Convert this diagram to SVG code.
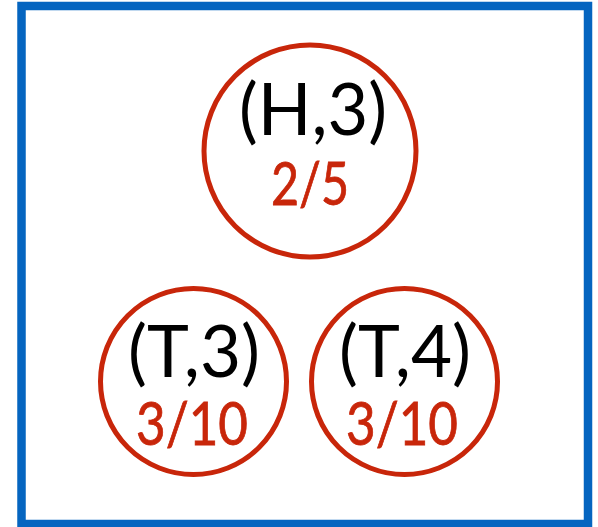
<svg xmlns="http://www.w3.org/2000/svg" width="598" height="527" viewBox="0 0 598 527">
<style>
.node{fill:#fff;stroke:#C8260A;stroke-width:5}
.lbl{font-family:Lato,"Liberation Sans",sans-serif;font-size:72px;fill:#000;text-anchor:middle}
.prob{font-family:Lato,"Liberation Sans",sans-serif;font-size:60px;fill:#C8260A;text-anchor:middle;stroke:#C8260A;stroke-width:0.8}
</style>
<rect x="21.5" y="6" width="566.5" height="518" fill="#fff" stroke="#0565C0" stroke-width="8.5"/>
<g id="connectors"></g>
<g id="H3">
<circle class="node" cx="310" cy="151" r="106"/>
<text class="lbl" x="313" y="135" textLength="148" lengthAdjust="spacingAndGlyphs">(H,3)</text>
<text class="prob" x="310" y="205" textLength="78" lengthAdjust="spacingAndGlyphs">2/5</text>
</g>
<g id="T3">
<circle class="node" cx="193.5" cy="381.5" r="93"/>
<text class="lbl" x="194" y="377" textLength="132" lengthAdjust="spacingAndGlyphs">(T,3)</text>
<text class="prob" x="192" y="445" textLength="112" lengthAdjust="spacingAndGlyphs">3/10</text>
</g>
<g id="T4">
<circle class="node" cx="404.5" cy="381.5" r="93"/>
<text class="lbl" x="405" y="377" textLength="132" lengthAdjust="spacingAndGlyphs">(T,4)</text>
<text class="prob" x="402" y="445" textLength="112" lengthAdjust="spacingAndGlyphs">3/10</text>
</g>
</svg>
